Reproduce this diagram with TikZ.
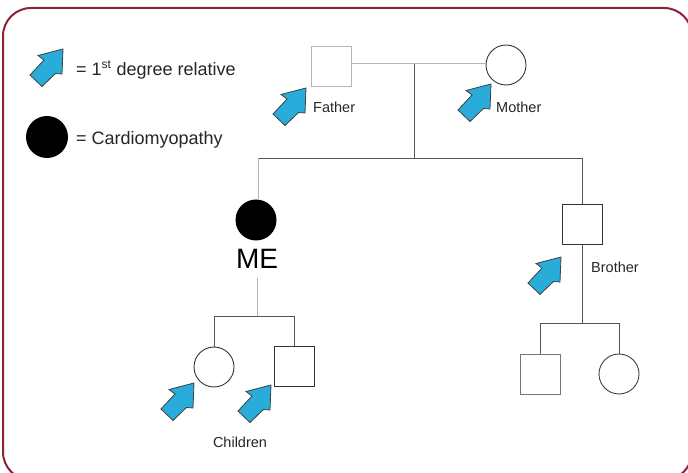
\documentclass[tikz,border=0pt]{standalone}
\usepackage{fontspec}
\setmainfont{Liberation Sans}
\definecolor{frame}{HTML}{8B2236}
\definecolor{arrowblue}{HTML}{29ACD9}
\definecolor{ln}{HTML}{555555}
\definecolor{lnlight}{HTML}{B5B5B5}
\begin{document}
\begin{tikzpicture}[x=1pt,y=-1pt,
  sq/.style={draw=#1,line width=0.9pt,minimum size=40pt,inner sep=0pt,fill=white},
  sq/.default=ln,
  circ/.style={draw=#1,circle,line width=0.9pt,minimum size=40pt,inner sep=0pt,fill=white},
  circ/.default=ln,
  conn/.style={draw=ln,line width=0.9pt},
  connlight/.style={draw=lnlight,line width=1pt},
  lbl/.style={font=\fontsize{14.5}{16}\selectfont,text=black!85,inner sep=0pt},
  leg/.style={font=\fontsize{18}{20}\selectfont,text=black!85,inner sep=0pt,anchor=west},
  relarrow/.pic={\draw[fill=arrowblue,draw=black!75,line width=0.8pt,line join=miter]
     (0,0) -- (-1,25) -- (-7.5,24.5) -- (-21,37.5) -- (-33,26) -- (-19,11) -- (-25,6.5) -- cycle;}
]
\clip (0,0) rectangle (688,473);
\fill[white] (0,0) rectangle (688,473);
\draw[frame,line width=2pt,rounded corners=28pt] (3,8) rectangle (692,480);

% legend
\pic at (63,49) {relarrow};
\node[leg] (legA) at (76,70) {= 1\textsuperscript{\fontsize{12}{12}\selectfont st} degree relative};
\node[circle,fill=black,minimum size=42pt,inner sep=0pt] (legC) at (47,137) {};
\node[leg] (legB) at (76,140) {= Cardiomyopathy};

% parents
\node[sq=lnlight] (father) at (331,66) {};
\node[circ=black!80] (mother) at (506,65) {};
\coordinate (mj) at (414,64);
\coordinate (sl) at (258,158);
\coordinate (sm) at (414,158);
\coordinate (sr) at (582,158);
\draw[connlight] (father.east |- mj) -- (mother.west |- mj);
\draw[conn] (mj) -- (sm);
\draw[conn] (sl) -- (sr);
\pic at (306,88) {relarrow};
\pic at (491,84) {relarrow};
\node[lbl,anchor=west] (ft) at (313,107) {Father};
\node[lbl,anchor=west] (mt) at (496,107) {Mother};

% me
\node[circle,fill=black,minimum size=41pt,inner sep=0pt] (me) at (256,220) {};
\node[font=\fontsize{28}{30}\selectfont,inner sep=0pt] (metxt) at (257,259) {ME};
\draw[connlight] (sl) -- (me.north -| sl);
\coordinate (mebot) at (257,278);
\coordinate (cm) at (257,316);
\draw[connlight] (mebot) -- (cm);
\coordinate (cl) at (214,316);
\coordinate (cr) at (294,316);
\draw[conn] (cl) -- (cr);
\node[circ=black!80] (daughter) at (214,367) {};
\node[sq=black!80] (son) at (294,366) {};
\draw[conn] (cl) -- (daughter.north);
\draw[conn] (cr) -- (son.north);
\pic at (194,383) {relarrow};
\pic at (271,385) {relarrow};
\node[lbl] (ct) at (240,442) {Children};

% brother
\node[sq=black!80] (brother) at (582,224) {};
\draw[conn] (sr) -- (brother.north);
\coordinate (bm) at (582,323);
\coordinate (bl) at (540,323);
\coordinate (br) at (619,323);
\draw[conn] (brother.south) -- (bm);
\draw[conn] (bl) -- (br);
\pic at (561,257) {relarrow};
\node[lbl,anchor=west] (bt) at (591,267) {Brother};
\node[sq=ln!80] (nephew) at (540,374) {};
\node[circ=black!75] (niece) at (619,374) {};
\draw[conn] (bl) -- (nephew.north);
\draw[conn] (br) -- (niece.north);
\end{tikzpicture}
\end{document}
